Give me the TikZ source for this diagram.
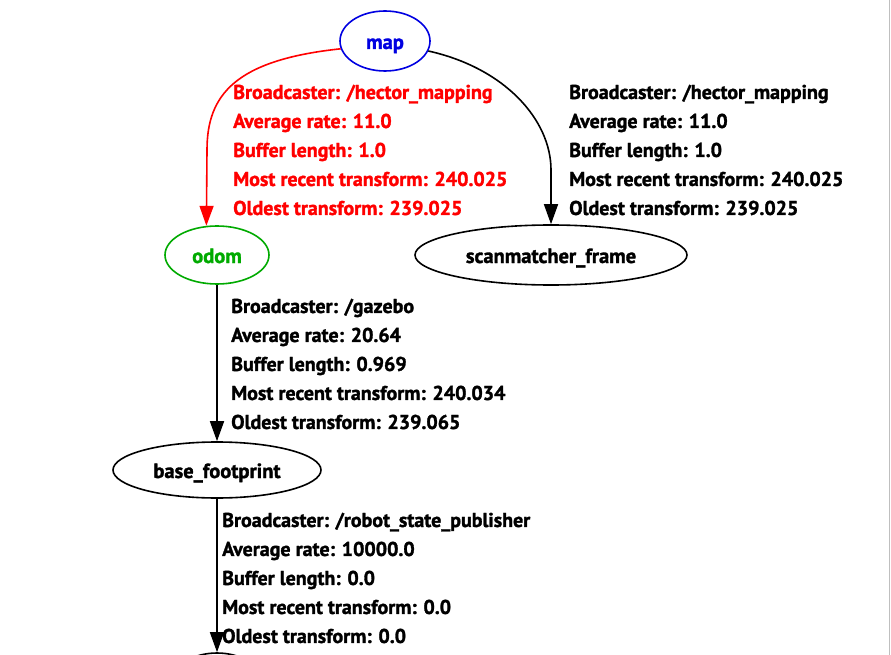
\documentclass[tikz,border=0pt]{standalone}
\usepackage{fontspec}
\setmainfont{PT Sans}[BoldFeatures={FakeBold=1.5}]
\usetikzlibrary{arrows.meta, shapes.geometric}
\definecolor{mapBlue}{RGB}{0,0,225}
\definecolor{odomGreen}{RGB}{0,170,0}
\definecolor{hectorRed}{RGB}{255,0,0}
\definecolor{frameGray}{gray}{0.75}
\tikzset{
    frame/.style={ellipse, draw, line width=1.6pt, inner sep=0pt, minimum height=58pt,
        text height=16pt, text depth=0pt, font=\fontsize{20.5}{24}\selectfont\bfseries},
    info/.style={anchor=west, align=left, inner sep=0pt,
        font=\fontsize{20}{29}\selectfont\bfseries},
    tfedge/.style={line width=1.6pt, -{Triangle[length=20pt,width=14pt]}},
}

\begin{document}
\begin{tikzpicture}[x=1pt, y=-1pt]
    \useasboundingbox (0,0) rectangle (891,655);
    \clip (0,0) rectangle (891,655);
    \draw[frameGray, line width=1pt] (889.5,0) -- (889.5,655);

    \node[frame, draw=mapBlue, text=mapBlue, minimum width=90pt, minimum height=60pt] (map) at (385,41) {map};
    \node[frame, draw=odomGreen, text=odomGreen, minimum width=104pt] (odom) at (217,255) {odom};
    \node[frame, minimum width=272pt, minimum height=60pt] (scanmatcher) at (551,255) {scanmatcher\_frame};
    \node[frame, minimum width=208pt, minimum height=56pt] (basefootprint) at (217,470) {base\_footprint};
    \node[frame, minimum width=90pt] (nextframe) at (217,682) {};

    \node[info, text=hectorRed] (mapodom) at (233,150) {Broadcaster: /hector\_mapping\\Average rate: 11.0\\Buffer length: 1.0\\Most recent transform: 240.025\\Oldest transform: 239.025};
    \node[info] (mapscan) at (569,150) {Broadcaster: /hector\_mapping\\Average rate: 11.0\\Buffer length: 1.0\\Most recent transform: 240.025\\Oldest transform: 239.025};
    \node[info] (odombase) at (231,364) {Broadcaster: /gazebo\\Average rate: 20.64\\Buffer length: 0.969\\Most recent transform: 240.034\\Oldest transform: 239.065};
    \node[info] (basenext) at (222,578) {Broadcaster: /robot\_state\_publisher\\Average rate: 10000.0\\Buffer length: 0.0\\Most recent transform: 0.0\\Oldest transform: 0.0};

    \draw[tfedge, hectorRed] (map.190) .. controls (235,60) and (207,95) .. (207,150) -- (odom.110);
    \draw[tfedge] (map.-13) .. controls (505,68) and (551,120) .. (551,170) -- (scanmatcher.north);
    \draw[tfedge] (odom) -- (basefootprint);
    \draw[tfedge] (basefootprint) -- (nextframe);
\end{tikzpicture}
\end{document}
